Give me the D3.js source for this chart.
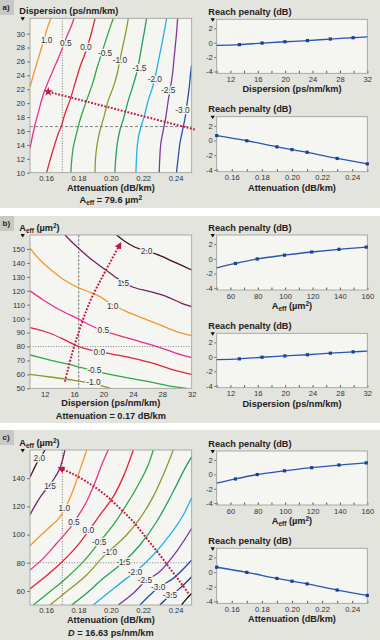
<!DOCTYPE html>
<html><head><meta charset="utf-8">
<script src="https://cdn.jsdelivr.net/npm/d3@7"></script>
<style>
body{margin:0;background:#fff}
svg{display:block}
text{font-family:"Liberation Sans",Arial,sans-serif}
</style>
</head><body>
<script>
// ---------------- DATA ----------------
// Panel a: contours of reach penalty vs attenuation (x) and dispersion (y), Aeff = 79.6
const levelsA = ["1.0","0.5","0.0","-0.5","-1.0","-1.5","-2.0","-2.5","-3.0"];
const contoursA = [
  [[0.1500,22.3],[0.1520,24.0],[0.1551,26.4],[0.1582,28.8],[0.1613,31.2],[0.1630,32.2]],
  [[0.1500,13.5],[0.1527,16.5],[0.1555,19.0],[0.1582,21.2],[0.1613,23.1],[0.1644,24.8],[0.1675,26.45],[0.1700,27.9],[0.1727,29.55],[0.1758,31.24],[0.1772,32.2]],
  [[0.1603,10],[0.1624,11.8],[0.1648,13.7],[0.1675,15.65],[0.1696,16.84],[0.1716,18.5],[0.1747,20.4],[0.1778,22.8],[0.1809,25.2],[0.1840,27.1],[0.1861,28.6],[0.1881,30.2],[0.1902,32.2]],
  [[0.1753,10],[0.1758,11.8],[0.1768,13.7],[0.1788,15.65],[0.1815,18.0],[0.1850,20.4],[0.1887,22.8],[0.1916,25.2],[0.1943,27.1],[0.1963,28.6],[0.1990,30.5],[0.2015,32.2]],
  [[0.1902,10],[0.1906,12.3],[0.1916,14.2],[0.1933,16.1],[0.1957,18.0],[0.1984,20.4],[0.2015,22.3],[0.2040,24.3],[0.2056,26.2],[0.2073,28.1],[0.2091,30],[0.2108,32.2]],
  [[0.2025,10],[0.2031,12.3],[0.2040,14.2],[0.2056,16.1],[0.2081,18],[0.2108,20.4],[0.2134,22.3],[0.2159,24.3],[0.2176,26.2],[0.2190,28.1],[0.2205,30],[0.2221,32.2]],
  [[0.2155,10],[0.2159,12.3],[0.2165,14.2],[0.2180,16.1],[0.2205,18],[0.2231,20.4],[0.2258,22.3],[0.2279,24.3],[0.2295,26.2],[0.2312,28.1],[0.2328,30],[0.2345,32.2]],
  [[0.2299,10],[0.2303,12.3],[0.2309,14.2],[0.2324,16.1],[0.2340,18],[0.2355,20.4],[0.2369,22.3],[0.2382,24.3],[0.2390,26.2],[0.2398,28.1],[0.2406,30],[0.2413,32.2]],
  [[0.2406,10],[0.2417,12.3],[0.2427,14.2],[0.2443,16.1],[0.2460,18],[0.2474,20.4],[0.2485,22.3],[0.2493,24.3],[0.2500,25.5]]
];
const labelPosA = [[0.1603,29.1],[0.1722,28.6],[0.1846,28.1],[0.1964,27.2],[0.2056,26.2],[0.2176,25.0],[0.2272,23.4],[0.2355,21.9],[0.2443,19.0]];
const arrowA = [[0.252,16.2],[0.1613,21.65]];
const refA = {att:0.17, disp:16.63};

// Panel b: contours vs dispersion (x) and Aeff (y), attenuation = 0.17
const levelsB = ["2.0","1.5","1.0","0.5","0.0","-0.5","-1.0"];
const contoursB = [
  [[21.79,160],[22.93,155.3],[24.29,151.2],[25.87,148.6],[27.69,145.2],[29.5,140.9],[32,134.9]],
  [[14.76,160],[16.35,151.7],[18.16,143.3],[19.98,136.1],[21.56,130.1],[22.7,126],[24.06,122.5],[26.33,119.4],[28.6,115.8],[30.63,111],[32,108.6]],
  [[10,150.5],[11.36,142.1],[13.17,133.7],[14.99,126.6],[16.58,122.2],[18.16,118.9],[19.52,115.8],[21.11,110.3],[23.15,105],[25.42,100.2],[27.69,95.5],[29.95,90.7],[32,87.8]],
  [[10,119.9],[11.81,113.4],[14.08,106.2],[16.58,99.8],[19.07,93.1],[21.79,88.3],[24.97,83.5],[27.69,79.2],[29.95,75.1],[32,72]],
  [[10,93.5],[12.72,89.5],[15,84.0],[16.6,80.0],[18.16,77.6],[21.34,74.4],[24.06,71.5],[26.78,67.9],[29.5,63.2],[32,60]],
  [[10,73.9],[12.72,70.3],[15,67.5],[17.03,64.8],[18.75,62.5],[20.88,60],[24.06,56.7],[26.78,54.1],[29.5,51.2],[31.3,50]],
  [[10,60],[12.72,58.1],[15,56.5],[17.03,54.8],[18.6,53.6],[20.0,51.3],[21.0,50]]
];
const labelPosB = [[25.87,148.6],[22.7,125.4],[21.25,109.3],[19.98,91.9],[19.43,76.3],[18.75,63.2],[18.62,54.3]];
const arrowB = [[14.76,54.8],[15.67,73.9],[16.8,93.1],[18.16,112.2],[19.98,131.3],[22.24,153.3]];
const refB = {disp:16.63, aeff:80};

// Panel c: contours vs attenuation (x) and Aeff (y), D = 16.63
const levelsC = ["2.0","1.5","1.0","0.5","0.0","-0.5","-1.0","-1.5","-2.0","-2.5","-3.0","-3.5","-4.0"];
const contoursC = [
  [[0.15,140.6],[0.1521,145.8],[0.1545,151.3],[0.1572,156],[0.1593,160]],
  [[0.15,114.0],[0.1541,122.5],[0.1582,129.5],[0.1624,135.5],[0.1654,140.5],[0.1681,146.0],[0.1700,152.5],[0.1716,160]],
  [[0.15,92.1],[0.1562,99.0],[0.1624,105.5],[0.1675,111.0],[0.1712,117.5],[0.1747,126.0],[0.1784,137.0],[0.1815,148.0],[0.1851,160]],
  [[0.15,74.8],[0.1582,83.1],[0.1665,93.8],[0.1747,104.6],[0.1784,110.7],[0.185,123.5],[0.1902,137.0],[0.1943,149.4],[0.1984,160]],
  [[0.15,61.4],[0.1582,68.9],[0.1696,80.3],[0.1788,91.4],[0.1861,102.5],[0.1933,113.9],[0.2015,126.9],[0.2077,141.1],[0.2139,160]],
  [[0.1521,50],[0.1624,59.5],[0.1727,69.4],[0.183,80.8],[0.1928,94.5],[0.2015,106.8],[0.2097,121.2],[0.218,137.5],[0.2231,149.4],[0.2262,160]],
  [[0.1624,50],[0.1727,59.5],[0.185,71.3],[0.1953,84.3],[0.2097,99.7],[0.218,111.5],[0.2262,126.9],[0.2324,142.3],[0.2386,160]],
  [[0.1758,50],[0.185,58.3],[0.1953,68.9],[0.2077,80.3],[0.218,92.6],[0.2283,109.1],[0.2386,130.5],[0.2458,147],[0.25,155.3]],
  [[0.1891,50],[0.1994,59.5],[0.2097,68.9],[0.2149,73.2],[0.2262,85.5],[0.2365,99.7],[0.2448,113.9],[0.25,126.2]],
  [[0.2046,50],[0.2139,58.3],[0.2211,66.6],[0.2303,73.7],[0.2406,87.9],[0.25,104.4]],
  [[0.218,50],[0.2242,57.1],[0.2293,62.3],[0.2386,68.9],[0.25,81.9]],
  [[0.2303,50],[0.2365,56.6],[0.2427,61.8],[0.25,70.1]],
  [[0.2437,50],[0.2468,54.3],[0.25,58.3]]
];
const labelPosC = [[0.1558,154.1],[0.1624,134.5],[0.1712,118.5],[0.1772,109.0],[0.1861,103.2],[0.1928,94.9],[0.1994,87.9],[0.2077,80.3],[0.2149,73.2],[0.2211,67.7],[0.2293,62.5],[0.2365,57.1],null];
const arrowC = [[0.2479,58.3],[0.2427,66.6],[0.2365,76],[0.2303,85.5],[0.2221,97.3],[0.2139,109.1],[0.2056,118.6],[0.1953,129.3],[0.185,137.5],[0.1758,143.4],[0.1686,147.0]];
const refC = {att:0.17, aeff:80};

// Tick values
const attTicks = [0.16,0.18,0.20,0.22,0.24];
const attMinorTicks = [0.15,0.16,0.17,0.18,0.19,0.20,0.21,0.22,0.23,0.24,0.25];
const dispTicksLeft = [10,12,14,16,18,20,22,24,26,28,30];
const dispTicks = [12,16,20,24,28,32];
const dispMinorTicks = [10,12,14,16,18,20,22,24,26,28,30,32];
const aeffTicksLeftB = [50,60,70,80,90,100,110,120,130,140,150];
const aeffTicksLeftC = [60,80,100,120,140];
const aeffTicks = [60,80,100,120,140,160];
const aeffMinorTicks = [50,60,70,80,90,100,110,120,130,140,150,160];
const penaltyTicks = [2,0,-2,-4];

// Right-hand line charts: reach penalty (dB)
const dispPtsX = [13.31,16.63,19.96,23.26,26.6,29.93];
const dispPtsY = [-0.27,-0.05,0.13,0.29,0.51,0.69];
const dispLineX = [10,13.31,16.63,19.96,23.26,26.6,29.93,32];
const dispLineY = [-0.38,-0.27,-0.05,0.13,0.29,0.51,0.69,0.8];

const attPtsX = [0.15,0.17,0.19,0.20,0.21,0.23,0.25];
const attPtsY = [0.67,-0.03,-0.86,-1.24,-1.6,-2.44,-3.18];

const aeffPtsX = [63.7,79.6,99.5,119.4,139.3,159.2];
const aeffPtsY = [-0.63,-0.02,0.5,0.93,1.3,1.6];
const aeffLineX = [50,63.7,79.6,99.5,119.4,139.3,159.2,160];
const aeffLineY = [-1.22,-0.63,-0.02,0.5,0.93,1.3,1.6,1.61];

// ---------------- STYLE ----------------
const BG = "#e4e4df", PLOTBG = "#f5f5f2", BORDER = "#9a9a96", BOXBG = "#c9c9c4";
const ARROW = "#c3163f";
const levelColor = {"2.0":"#3e0f26","1.5":"#6c2463","1.0":"#f4962b","0.5":"#e9318c","0.0":"#e3243a",
  "-0.5":"#2fa84a","-1.0":"#8e9a2c","-1.5":"#22a05a","-2.0":"#22b0e8","-2.5":"#7d3a9c",
  "-3.0":"#2450b0","-3.5":"#1d2f80","-4.0":"#111111"};
const LX0 = 30, LX1 = 191.7, RX0 = 216.7, RX1 = 367.3;

const svg = d3.select("body").append("svg").attr("width",380).attr("height",640);
const defs = svg.append("defs");
defs.append("marker").attr("id","arrowTri").attr("viewBox","0 0 10 10").attr("refX",6).attr("refY",5)
  .attr("markerWidth",7).attr("markerHeight",7).attr("markerUnits","userSpaceOnUse").attr("orient","auto")
  .append("path").attr("d","M0,0 L10,5 L0,10 Z").attr("fill",ARROW);
defs.append("marker").attr("id","arrowStar").attr("viewBox","-10 -10 20 20").attr("refX",0).attr("refY",0)
  .attr("markerWidth",10).attr("markerHeight",10).attr("markerUnits","userSpaceOnUse").attr("orient","0")
  .append("path").attr("d",d3.symbol(d3.symbolStar,110)()).attr("fill",ARROW);

// panel backgrounds
const panels = [{t:0,b:208,l:"a)"},{t:216,b:423,l:"b)"},{t:430,b:640,l:"c)"}];
panels.forEach(p=>{
  svg.append("rect").attr("x",0).attr("y",p.t).attr("width",380).attr("height",p.b-p.t).attr("fill",BG);
  svg.append("rect").attr("x",0).attr("y",p.t).attr("width",14).attr("height",15).attr("fill",BOXBG);
  svg.append("text").attr("x",2.5).attr("y",p.t+9.5).attr("font-size",8).attr("font-weight","bold").attr("fill","#222").text(p.l);
});

function richText(sel, parts, attrs){
  const t = sel.append("text");
  Object.entries(attrs).forEach(([k,v])=>t.attr(k,v));
  parts.forEach(p=>{
    const s = t.append("tspan").text(p.t);
    if(p.sub){ s.attr("font-size",6.5).attr("dy",2); }
    if(p.sup){ s.attr("font-size",6.5).attr("dy",-3.2); }
    if(p.back) s.attr("dy",p.back);
    if(p.it) s.attr("font-style","italic");
  });
  return t;
}
const aeffTitle = [{t:"A"},{t:"eff",sub:true},{t:" (µm",back:-2},{t:"2",sup:true},{t:")",back:3.2}];

function triangle(x,y){
  svg.append("path").attr("d",`M${x-2.2},${y-1.6} L${x+2.2},${y-1.6} L${x},${y+1.8} Z`).attr("fill","#111");
}

function leftPlot(o){
  const x = d3.scaleLinear().domain(o.xDomain).range([LX0,LX1]);
  const y = d3.scaleLinear().domain(o.yDomain).range([o.bottom,o.top]);
  const g = svg.append("g");
  g.append("rect").attr("x",LX0).attr("y",o.top).attr("width",LX1-LX0).attr("height",o.bottom-o.top).attr("fill",PLOTBG);
  defs.append("clipPath").attr("id","clip"+o.id).append("rect")
    .attr("x",LX0).attr("y",o.top).attr("width",LX1-LX0).attr("height",o.bottom-o.top);
  const cg = g.append("g").attr("clip-path",`url(#clip${o.id})`);
  cg.append("line").attr("x1",x(o.refX)).attr("x2",x(o.refX)).attr("y1",o.top).attr("y2",o.bottom)
    .attr("stroke","#555").attr("stroke-width",0.8).attr("stroke-dasharray",o.refXDash);
  cg.append("line").attr("x1",LX0).attr("x2",LX1).attr("y1",y(o.refY)).attr("y2",y(o.refY))
    .attr("stroke","#666").attr("stroke-width",0.8).attr("stroke-dasharray",o.refYDash);
  const line = d3.line().x(d=>x(d[0])).y(d=>y(d[1])).curve(d3.curveCatmullRom.alpha(0.5));
  o.contours.forEach((c,i)=>{
    cg.append("path").attr("d",line(c)).attr("fill","none")
      .attr("stroke",levelColor[o.levels[i]]).attr("stroke-width",1.3);
  });
  o.labels.forEach((p,i)=>{
    if(!p) return;
    g.append("text").attr("x",x(p[0])).attr("y",y(p[1])).attr("dy","0.35em").attr("text-anchor","middle")
      .attr("font-size",8.3).attr("fill","#333").attr("stroke",PLOTBG).attr("stroke-width",2.6)
      .attr("stroke-linejoin","round").attr("paint-order","stroke").text(o.levels[i]);
  });
  g.append("rect").attr("x",LX0).attr("y",o.top).attr("width",LX1-LX0).attr("height",o.bottom-o.top)
    .attr("fill","none").attr("stroke",BORDER).attr("stroke-width",0.8);
  const aline = d3.line().x(d=>x(d[0])).y(d=>y(d[1])).curve(d3.curveCatmullRom.alpha(0.5));
  g.append("path").attr("d",aline(o.arrow)).attr("fill","none").attr("stroke",ARROW)
    .attr("stroke-width",2).attr("stroke-dasharray","1.8,1.6").attr("marker-end",`url(#${o.marker})`);
  const ax = g.append("g").attr("transform",`translate(0,${o.bottom})`)
    .call(d3.axisBottom(x).tickValues(o.xTicks).tickFormat(o.xFmt).tickSize(0).tickPadding(3));
  ax.select(".domain").remove();
  ax.selectAll("text").attr("font-size",7.6).attr("fill","#333").attr("font-family",null);
  const ay = g.append("g").attr("transform",`translate(${LX0},0)`)
    .call(d3.axisLeft(y).tickValues(o.yTicks).tickSize(3).tickPadding(2));
  ay.select(".domain").remove();
  ay.selectAll("line").attr("stroke","#777");
  ay.selectAll("text").attr("font-size",7.6).attr("fill","#333").attr("font-family",null);
  richText(svg, o.title, {x:19.3, y:o.top-4.3, "font-size":9.2, "font-weight":"bold", fill:"#222"});
  triangle(22.7, o.top+0.6);
  richText(svg, o.xTitle, {x:(LX0+LX1)/2, y:o.bottom+18, "font-size":9.2, "font-weight":"bold", fill:"#222", "text-anchor":"middle"});
  richText(svg, o.caption, {x:(LX0+LX1)/2, y:o.bottom+30.5, "font-size":9.2, "font-weight":"bold", fill:"#222", "text-anchor":"middle"});
}

function rightPlot(o){
  const x = d3.scaleLinear().domain(o.xDomain).range([RX0,RX1]);
  const y = d3.scaleLinear().domain([-4.25,3.25]).range([o.bottom,o.top]);
  const g = svg.append("g");
  g.append("rect").attr("x",RX0).attr("y",o.top).attr("width",RX1-RX0).attr("height",o.bottom-o.top).attr("fill",PLOTBG);
  const ax = g.append("g").attr("transform",`translate(0,${o.bottom})`)
    .call(d3.axisBottom(x).tickValues(o.minor).tickSizeInner(-2.5).tickSizeOuter(0).tickPadding(3.3)
      .tickFormat(d=> o.major.some(m=>Math.abs(m-d)<1e-9) ? o.fmt(d) : ""));
  ax.select(".domain").remove();
  ax.selectAll("line").attr("stroke","#555");
  ax.selectAll("text").attr("font-size",7.6).attr("fill","#333").attr("font-family",null);
  const ay = g.append("g").attr("transform",`translate(${RX0},0)`)
    .call(d3.axisLeft(y).tickValues(penaltyTicks).tickSize(2.5).tickPadding(1.5).tickFormat(d=>String(d)));
  ay.select(".domain").remove();
  ay.selectAll("line").attr("stroke","#777");
  ay.selectAll("text").attr("font-size",7.6).attr("fill","#333").attr("font-family",null);
  g.append("rect").attr("x",RX0).attr("y",o.top).attr("width",RX1-RX0).attr("height",o.bottom-o.top)
    .attr("fill","none").attr("stroke",BORDER).attr("stroke-width",0.8);
  const lx = o.lineX, ly = o.lineY;
  const line = d3.line().x(i=>x(lx[i])).y(i=>y(ly[i])).curve(d3.curveMonotoneX);
  g.append("path").attr("d",line(d3.range(lx.length))).attr("fill","none").attr("stroke","#2a55b0").attr("stroke-width",1.3);
  g.selectAll(null).data(d3.range(o.px.length)).join("rect")
    .attr("x",i=>x(o.px[i])-1.6).attr("y",i=>y(o.py[i])-1.6).attr("width",3.2).attr("height",3.2).attr("fill","#1a3f95");
  svg.append("text").attr("x",208.3).attr("y",o.top-4.5).attr("font-size",9.2).attr("font-weight","bold").attr("fill","#222").text("Reach penalty (dB)");
  triangle(212.7, o.top+0.6);
  richText(svg, o.xTitle, {x:(RX0+RX1)/2, y:o.bottom+19, "font-size":9.2, "font-weight":"bold", fill:"#222", "text-anchor":"middle"});
}

const f2 = d3.format(".2f");
const dispTitle = [{t:"Dispersion (ps/nm/km)"}];
const attTitle = [{t:"Attenuation (dB/km)"}];

leftPlot({id:"a", top:18.3, bottom:172.7, xDomain:[0.15,0.25], yDomain:[10,32.2],
  xTicks:attTicks, xFmt:f2, yTicks:dispTicksLeft, levels:levelsA, contours:contoursA, labels:labelPosA,
  refX:refA.att, refY:refA.disp, refXDash:"1,1.6", refYDash:"3,2", arrow:arrowA, marker:"arrowStar",
  title:dispTitle, xTitle:attTitle,
  caption:[{t:"A"},{t:"eff",sub:true},{t:" = 79.6 µm",back:-2},{t:"2",sup:true}]});
leftPlot({id:"b", top:235, bottom:388.3, xDomain:[10,32], yDomain:[50,160],
  xTicks:[12,16,20,24,28,32], xFmt:d=>d, yTicks:aeffTicksLeftB, levels:levelsB, contours:contoursB, labels:labelPosB,
  refX:refB.disp, refY:refB.aeff, refXDash:"2.5,1.5", refYDash:"1,1.6", arrow:arrowB, marker:"arrowTri",
  title:aeffTitle, xTitle:dispTitle, caption:[{t:"Attenuation = 0.17 dB/km"}]});
leftPlot({id:"c", top:450, bottom:605, xDomain:[0.15,0.25], yDomain:[50,160],
  xTicks:attTicks, xFmt:f2, yTicks:aeffTicksLeftC, levels:levelsC, contours:contoursC, labels:labelPosC,
  refX:refC.att, refY:refC.aeff, refXDash:"1,1.6", refYDash:"1,1.6", arrow:arrowC, marker:"arrowTri",
  title:aeffTitle, xTitle:attTitle, caption:[{t:"D",it:true},{t:" = 16.63 ps/nm/km"}]});

rightPlot({top:19.3, bottom:73.3, xDomain:[10,32], minor:dispMinorTicks, major:dispTicks, fmt:d=>d,
  lineX:dispLineX, lineY:dispLineY, px:dispPtsX, py:dispPtsY, xTitle:dispTitle});
rightPlot({top:116.7, bottom:171.7, xDomain:[0.15,0.25], minor:attMinorTicks, major:attTicks, fmt:f2,
  lineX:attPtsX, lineY:attPtsY, px:attPtsX, py:attPtsY, xTitle:attTitle});
rightPlot({top:235, bottom:290, xDomain:[50,160], minor:aeffMinorTicks, major:aeffTicks, fmt:d=>d,
  lineX:aeffLineX, lineY:aeffLineY, px:aeffPtsX, py:aeffPtsY, xTitle:aeffTitle});
rightPlot({top:333.3, bottom:387.7, xDomain:[10,32], minor:dispMinorTicks, major:dispTicks, fmt:d=>d,
  lineX:dispLineX, lineY:dispLineY, px:dispPtsX, py:dispPtsY, xTitle:dispTitle});
rightPlot({top:451, bottom:505, xDomain:[50,160], minor:aeffMinorTicks, major:aeffTicks, fmt:d=>d,
  lineX:aeffLineX, lineY:aeffLineY, px:aeffPtsX, py:aeffPtsY, xTitle:aeffTitle});
rightPlot({top:548.3, bottom:603.3, xDomain:[0.15,0.25], minor:attMinorTicks, major:attTicks, fmt:f2,
  lineX:attPtsX, lineY:attPtsY, px:attPtsX, py:attPtsY, xTitle:attTitle});
</script>
</body></html>
